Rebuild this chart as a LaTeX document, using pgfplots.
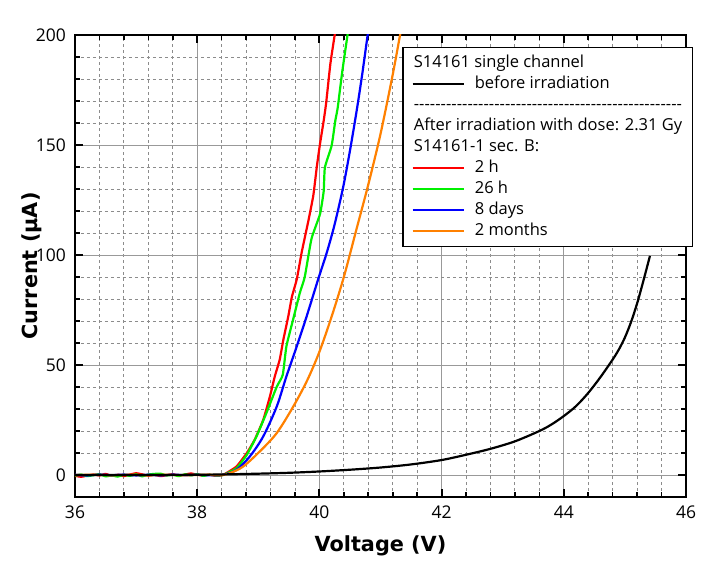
\documentclass[border=0pt]{standalone}
\usepackage{fontspec}
\setmainfont{Open Sans}
\newfontfamily\labelfont{DejaVu Sans}
\usepackage{pgfplots}
\pgfplotsset{compat=1.18}
\definecolor{cred}{RGB}{255,0,0}
\definecolor{cgreen}{RGB}{0,240,0}
\definecolor{cblue}{RGB}{0,0,255}
\definecolor{corange}{RGB}{255,128,0}
\begin{document}
\begin{tikzpicture}
\begin{axis}[
 scale only axis, width=611bp, height=462bp,
 xmin=36, xmax=46, ymin=-10, ymax=200,
 xtick={36,38,...,46}, ytick={0,50,...,200},
 minor x tick num=4, minor y tick num=4,
 grid=both,
 major grid style={draw=black!40, line width=0.9bp},
 minor grid style={draw=black!45, line width=0.9bp, dash pattern=on 3bp off 3bp},
 axis line style={line width=2bp},
 tick style={black, line width=2bp},
 minor tick style={line width=1.6bp},
 major tick length=8bp, minor tick length=5bp,
 tick align=inside,
 ticklabel style={font=\fontsize{17.5bp}{20bp}\selectfont},
 /pgf/number format/assume math mode=true,
 xticklabel style={yshift=-5bp},
 yticklabel style={xshift=-5.5bp},
 xlabel={Voltage (V)}, ylabel={Current (µA)},
 label style={font=\labelfont\bfseries\fontsize{20.8bp}{24bp}\selectfont},
 xlabel style={at={(axis description cs:0.5,-0.119)}, anchor=base},
 ylabel style={at={(axis description cs:-0.0617,0.5)}, anchor=base},
 legend cell align=left,
 legend style={at={(rel axis cs:0.536,0.975)}, anchor=north west, draw=black, line width=1.3bp,
   font=\fontsize{16.5bp}{19bp}\selectfont, inner xsep=8.5bp, inner ysep=5bp, row sep=0bp, column sep=8bp,
   nodes={inner sep=2bp, text height=13bp, text depth=4bp}},
 legend image code/.code={\draw[#1] (0bp,0bp) -- (51bp,0bp);},
 every axis plot/.append style={line width=2.2bp},
]
\addlegendimage{empty legend}
\addlegendentry{\hspace*{-61bp}S14161 single channel}
\addlegendimage{black, line width=2.2bp}
\addlegendentry{before irradiation}
\addlegendimage{empty legend}
\addlegendentry{\hspace*{-61bp}\makebox[268bp]{\xleaders\hbox{-}\hfill}}
\addlegendimage{empty legend}
\addlegendentry{\hspace*{-61bp}After irradiation with dose: 2.31 Gy}
\addlegendimage{empty legend}
\addlegendentry{\hspace*{-61bp}S14161-1 sec. B:}
\addlegendimage{cred, line width=2.2bp}
\addlegendentry{2 h}
\addlegendimage{cgreen, line width=2.2bp}
\addlegendentry{26 h}
\addlegendimage{cblue, line width=2.2bp}
\addlegendentry{8 days}
\addlegendimage{corange, line width=2.2bp}
\addlegendentry{2 months}

% 2 h
\addplot[cred, forget plot, smooth, tension=0.3] coordinates {
(36.0,-0.4)(36.1,-0.8)(36.2,-0.3)(36.3,0.2)(36.4,-0.2)(36.5,0.5)(36.6,-0.4)(36.7,0.1)(36.8,-0.5)(36.9,0.2)
(37.0,0.8)(37.1,0.3)(37.2,-0.3)(37.3,0.1)(37.4,-0.5)(37.5,-0.1)(37.6,0.4)(37.7,-0.3)(37.8,0.2)(37.9,0.7)
(38.0,0.1)(38.1,-0.3)(38.2,0.2)(38.3,-0.4)(38.42,0)(38.64,3.8)(38.81,9.9)(38.94,16)(39.08,25)(39.19,35.7)
(39.27,44.8)(39.35,52.4)(39.41,61.5)(39.49,72)(39.55,81)(39.63,89)(39.71,101.2)(39.82,115.6)(39.90,127)
(39.96,140.6)(40.01,150.5)(40.07,161)(40.11,169)(40.18,187)(40.25,200)(40.3,210)};
% 26 h
\addplot[cgreen, forget plot, smooth, tension=0.3] coordinates {
(36.0,-0.3)(36.1,0.2)(36.2,-0.5)(36.3,-0.1)(36.4,0.4)(36.5,-0.6)(36.6,-0.2)(36.7,-0.7)(36.8,0.1)(36.9,-0.4)
(37.0,0.3)(37.1,-0.6)(37.2,0.2)(37.3,0.5)(37.4,0.6)(37.5,-0.2)(37.6,0.1)(37.7,-0.5)(37.8,0.3)(37.9,-0.2)
(38.0,0.4)(38.1,-0.4)(38.2,0.1)(38.3,-0.2)(38.42,0)(38.64,3)(38.81,9.1)(38.97,17.5)(39.13,28)(39.30,40)
(39.40,45.5)(39.46,58.5)(39.57,70.7)(39.68,82.8)(39.76,90)(39.87,107.3)(40.01,118.6)(40.07,129)(40.09,139.8)
(40.2,149.7)(40.26,161)(40.30,167)(40.37,182.5)(40.46,200)(40.5,208)};
% 8 days
\addplot[cblue, forget plot, smooth] coordinates {
(36.0,0.1)(36.2,-0.2)(36.4,0.2)(36.6,-0.1)(36.8,0.2)(37.0,-0.2)(37.2,0.1)(37.4,-0.2)(37.6,0.2)(37.8,-0.1)
(38.0,0.1)(38.2,-0.1)(38.42,0.1)(38.64,2.3)(38.86,8.4)(39.08,17.5)(39.30,31)(39.46,44.8)(39.63,58.5)
(39.79,72)(39.98,89)(40.12,101)(40.25,114)(40.39,131)(40.5,147.4)(40.61,165.6)(40.70,182)(40.79,200)(40.85,211)};
% 2 months
\addplot[corange, forget plot, smooth] coordinates {
(36.0,0)(36.3,0.1)(36.6,-0.1)(36.9,0.1)(37.2,-0.1)(37.5,0.1)(37.8,-0.1)(38.1,0.1)(38.4,0)
(38.53,0.8)(38.75,3.8)(39.02,10.6)(39.30,19)(39.57,31)(39.8,43)(40.0,56)(40.2,72)(40.4,90)(40.6,111)
(40.8,132)(41.0,155)(41.2,182)(41.32,200)(41.4,212)};
% before irradiation
\addplot[black, forget plot, smooth] coordinates {
(36,0)(37,0)(38,0.1)(38.5,0.3)(39,0.6)(39.5,1.0)(40,1.6)(40.5,2.4)(41,3.4)(41.5,4.8)(42,6.8)
(42.4,9.2)(42.8,11.9)(43.2,15.3)(43.6,20)(43.8,23)(44.0,26.8)(44.2,31.3)(44.4,37.3)(44.6,44.5)
(44.8,52.5)(44.9,57)(45.0,62.5)(45.1,69.5)(45.2,78)(45.3,88)(45.41,99.6)};
\end{axis}
\pgfresetboundingbox
\path (current axis.south west) ++(-75bp,-70bp) rectangle ++(703bp,567bp);
\end{tikzpicture}
\end{document}
